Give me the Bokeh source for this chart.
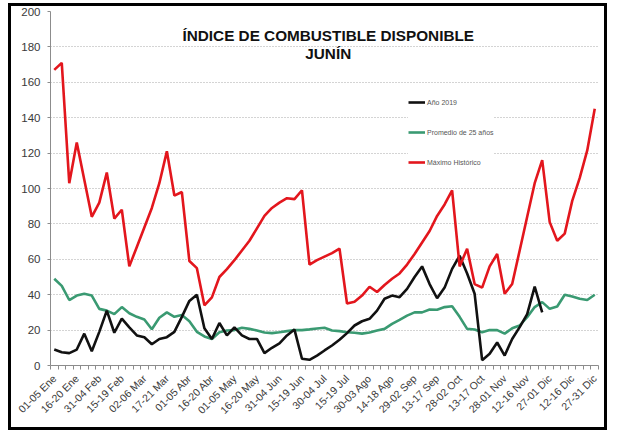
import math
from bokeh.plotting import figure
from bokeh.models import Range1d, FixedTicker, SingleIntervalTicker, Legend, LegendItem, Label
from bokeh.embed import file_html
from bokeh.resources import INLINE

# ---- data -------------------------------------------------------------
tick_labels = ["01-05 Ene", "16-20 Ene", "31-04 Feb", "15-19 Feb", "02-06 Mar",
               "17-21 Mar", "01-05 Abr", "16-20 Abr", "01-05 May", "16-20 May",
               "31-04 Jun", "15-19 Jun", "30-04 Jul", "15-19 Jul", "30-03 Ago",
               "14-18 Ago", "29-02 Sep", "13-17 Sep", "28-02 Oct", "13-17 Oct",
               "28-01 Nov", "12-16 Nov", "27-01 Dic", "12-16 Dic", "27-31 Dic"]
n_periods = 73

anio_2019 = [9, 7.5, 7, 9, 18, 8, 19, 31, 18.5, 26.5, 21.5, 17, 16, 12, 15, 16, 19, 27.5,
             36.5, 40, 21, 15, 24, 17, 21.5, 17, 15, 15, 7, 10, 12.5, 17, 20.3, 3.8, 3.2,
             5.6, 8.5, 11.3, 14.5, 18.3, 22.6, 25, 26.4, 31, 37.7, 39.5, 38.6, 43.3, 50,
             56, 46, 38, 44, 54.6, 62, 52, 40.5, 3, 6.6, 13, 5.6, 15, 21.7, 29, 44.6, 30]

promedio_25 = [49, 45, 37, 39.5, 40.5, 39.5, 32, 31, 29, 33, 29.5, 27.5, 26, 20.5, 27, 30,
               27.5, 28.5, 25, 19, 16.4, 15, 18.8, 19.8, 20, 21.3, 20.7, 19.8, 18.6, 18.3,
               18.8, 19.4, 20, 20, 20.4, 20.9, 21.3, 19.8, 19.4, 18.8, 18.5, 18, 18.6, 19.8,
               20.7, 23.5, 25.8, 28.2, 30, 30, 31.6, 31.5, 33, 33.5, 27.5, 20.7, 20.3, 18.8,
               20, 20, 18, 21, 22.6, 27.3, 33, 35.8, 32, 33.3, 40, 39, 37.7, 37, 40]

maximo_hist = [167, 171, 103, 126, 105, 84, 92, 109, 83, 88, 56, 67, 78, 89, 103, 121, 96, 98,
               59, 55, 34, 38.5, 50, 54.5, 59.5, 65, 70.5, 77.5, 84.5, 89, 92, 94.5, 94, 99,
               57, 59.5, 61.5, 63.5, 66, 35, 36, 39.5, 44.5, 41.5, 45.5, 49, 52, 57, 63, 69.5,
               76, 84.5, 91, 99, 56, 66, 46, 44, 56, 63, 40.5, 46, 65, 84, 103, 116, 81, 70.5,
               74.5, 93, 106, 121.5, 145]

x_idx = list(range(n_periods))

# ---- figure -----------------------------------------------------------
p = figure(width=593, height=421, output_backend="svg", toolbar_location=None,
           x_range=Range1d(-0.5, n_periods - 0.5), y_range=Range1d(0, 200),
           min_border_left=39, min_border_right=12, min_border_top=5, min_border_bottom=68)
p.styles = {"border": "3px solid #000000", "box-sizing": "content-box",
            "margin-left": "8px", "margin-top": "3px", "overflow": "hidden"}
p.outline_line_color = None
p.background_fill_color = "white"
p.border_fill_color = "white"

# grid
p.xgrid.visible = False
p.ygrid.grid_line_color = "#a8a8a8"
p.ygrid.grid_line_dash = "1 2"
p.ygrid.grid_line_width = 1

# y axis
p.yaxis.ticker = SingleIntervalTicker(interval=20)
p.yaxis.axis_line_color = "#8c8c8c"
p.yaxis.major_tick_line_color = "#8c8c8c"
p.yaxis.major_tick_out = 3
p.yaxis.major_tick_in = 0
p.yaxis.minor_tick_line_color = None
p.yaxis.major_label_text_font = "Liberation Sans"
p.yaxis.major_label_text_font_size = "11.5px"
p.yaxis.major_label_text_color = "#3a3a3a"
p.yaxis.major_label_standoff = 6

# x axis
label_ticks = list(range(0, n_periods, 3))
p.xaxis.ticker = FixedTicker(ticks=label_ticks,
                             minor_ticks=[i - 0.5 for i in range(n_periods + 1)])
p.xaxis.major_label_overrides = {t: lab for t, lab in zip(label_ticks, tick_labels)}
p.xaxis.major_label_orientation = math.pi / 4
p.xaxis.axis_line_color = "#8c8c8c"
p.xaxis.major_tick_line_color = None
p.xaxis.minor_tick_line_color = "#8c8c8c"
p.xaxis.minor_tick_out = 4
p.xaxis.minor_tick_in = 0
p.xaxis.major_label_text_font = "Liberation Sans"
p.xaxis.major_label_text_font_size = "10.5px"
p.xaxis.major_label_text_color = "#3a3a3a"
p.xaxis.major_label_standoff = 5

# lines
r_prom = p.line(x_idx, promedio_25, line_color="#3a9a72", line_width=2.6)
r_anio = p.line(x_idx[:len(anio_2019)], anio_2019, line_color="#111111", line_width=2.6)
r_max = p.line(x_idx, maximo_hist, line_color="#e3161d", line_width=2.6)

legend = Legend(items=[LegendItem(label="Año 2019", renderers=[r_anio]),
                       LegendItem(label="Promedio de 25 años", renderers=[r_prom]),
                       LegendItem(label="Máximo Histórico", renderers=[r_max])],
                location=(358, 193), orientation="vertical",
                glyph_width=17, glyph_height=20, spacing=10, padding=10, margin=0,
                label_standoff=2, label_text_font="Liberation Sans",
                label_text_font_size="7px", label_text_color="#555555",
                background_fill_color="white", background_fill_alpha=1.0,
                border_line_color=None)
p.add_layout(legend)

# title (two centred lines inside the plot)
for txt, yv in [("ÍNDICE DE COMBUSTIBLE DISPONIBLE", 186.5), ("JUNÍN", 176.3)]:
    p.add_layout(Label(x=36.5, y=yv, text=txt, text_align="center",
                       text_baseline="alphabetic", text_font="Liberation Sans",
                       text_font_style="bold", text_font_size="15.3px",
                       text_color="#111111"))

open("out.html", "w").write(file_html(p, INLINE))
